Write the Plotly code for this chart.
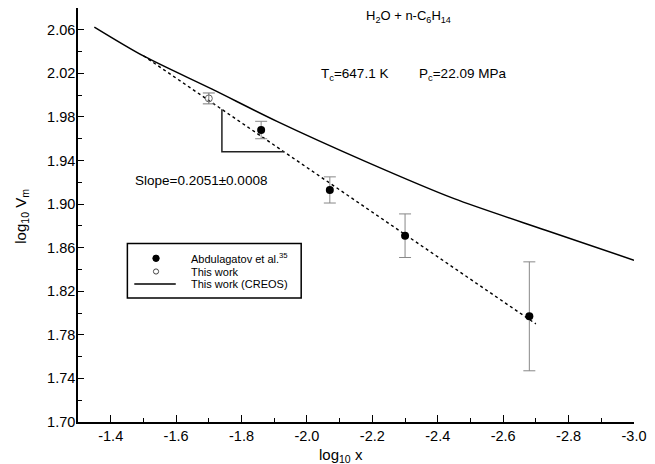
import plotly.graph_objects as go

# Abdulagatov et al. data (log10 x, log10 Vm, uncertainty)
abd_x = [-1.86, -2.07, -2.30, -2.68]
abd_y = [1.968, 1.913, 1.871, 1.797]
abd_err = [0.008, 0.012, 0.020, 0.050]

# This work
tw_x = [-1.70]
tw_y = [1.997]
tw_err = [0.005]

# CREOS model curve
creos_x = [-1.35, -1.50, -1.71, -1.91, -2.18, -2.45, -2.73, -3.00]
creos_y = [2.0625, 2.036, 2.0055, 1.9757, 1.939, 1.905, 1.876, 1.8485]

# Linear fit: log10 Vm = intercept + slope * log10 x
fit_slope = 0.2051
fit_intercept = 2.3438
fit_x = [-1.50, -2.70]
fit_y = [fit_intercept + fit_slope * v for v in fit_x]

# Slope triangle corners
tri_x = [-1.74, -1.74, -1.93]
tri_y = [1.987, 1.948, 1.948]

# Tick labels
x_tickvals = [-1.4, -1.6, -1.8, -2.0, -2.2, -2.4, -2.6, -2.8, -3.0]
x_ticktext = ["-1.4", "-1.6", "-1.8", "-2.0", "-2.2", "-2.4", "-2.6", "-2.8", "-3.0"]

FONT = "Liberation Sans, Arial, sans-serif"
W, H = 655, 464
ML, MR, MT, MB = 78, 14, 8, 42
PW, PH = W - ML - MR, H - MT - MB


def px_x(p):
    return (p - ML) / PW


def px_y(p):
    return (H - MB - p) / PH


fig = go.Figure()

fig.add_trace(go.Scatter(
    x=creos_x, y=creos_y, mode="lines",
    line=dict(color="black", width=1.5, shape="spline", smoothing=0.8),
    showlegend=False, hoverinfo="skip",
))

fig.add_trace(go.Scatter(
    x=fit_x, y=fit_y, mode="lines",
    line=dict(color="black", width=1.4, dash="3px,3px"),
    showlegend=False, hoverinfo="skip",
))

fig.add_trace(go.Scatter(
    x=tri_x, y=tri_y, mode="lines",
    line=dict(color="#222222", width=1.5),
    showlegend=False, hoverinfo="skip",
))

fig.add_trace(go.Scatter(
    x=tw_x, y=tw_y, mode="markers",
    marker=dict(symbol="circle-open", size=7, color="#666666", line=dict(width=1)),
    error_y=dict(type="data", array=tw_err, color="#777777", thickness=1, width=6),
    showlegend=False,
))

fig.add_trace(go.Scatter(
    x=abd_x, y=abd_y, mode="markers",
    marker=dict(symbol="circle", size=8, color="black"),
    error_y=dict(type="data", array=abd_err, color="#888888", thickness=1, width=6),
    showlegend=False,
))

annotations = [
    dict(x=-2.312, y=2.072, xref="x", yref="y", showarrow=False,
         text="H<sub>2</sub>O + n-C<sub>6</sub>H<sub>14</sub>",
         font=dict(family=FONT, size=13, color="black"), xanchor="center", yanchor="middle"),
    dict(x=-2.036, y=2.0187, xref="x", yref="y", showarrow=False,
         text="T<sub>c</sub>=647.1 K",
         font=dict(family=FONT, size=13.5, color="black"), xanchor="left", yanchor="middle"),
    dict(x=-2.338, y=2.0187, xref="x", yref="y", showarrow=False,
         text="P<sub>c</sub>=22.09 MPa",
         font=dict(family=FONT, size=13.5, color="black"), xanchor="left", yanchor="middle"),
    dict(x=-1.468, y=1.922, xref="x", yref="y", showarrow=False,
         text="Slope=0.2051\u00b10.0008",
         font=dict(family=FONT, size=13.5, color="black"), xanchor="left", yanchor="middle"),
    # axis titles
    dict(x=px_x(20), y=px_y(216), xref="paper", yref="paper", showarrow=False,
         text="log<sub>10</sub> V<sub>m</sub>", textangle=-90,
         font=dict(family=FONT, size=15, color="black"), xanchor="center", yanchor="middle"),
    dict(x=px_x(344), y=px_y(456), xref="paper", yref="paper", showarrow=False,
         text="log<sub>10</sub> x",
         font=dict(family=FONT, size=15, color="black"), xanchor="center", yanchor="middle"),
]

# Legend box drawn with shapes and text
legend_rows = [258.3, 271.5, 284]
legend_labels = ["Abdulagatov et al.<sup>35</sup>", "This work", "This work (CREOS)"]
for yy, lab in zip(legend_rows, legend_labels):
    annotations.append(dict(
        x=px_x(190), y=px_y(yy), xref="paper", yref="paper", showarrow=False,
        text=lab, font=dict(family=FONT, size=11, color="black"),
        xanchor="left", yanchor="middle",
    ))

shapes = [
    dict(type="rect", xref="paper", yref="paper",
         x0=px_x(128), x1=px_x(304), y0=px_y(298), y1=px_y(243.5),
         line=dict(color="black", width=1.5), fillcolor="white", layer="below"),
    dict(type="circle", xref="paper", yref="paper", xsizemode="pixel", ysizemode="pixel",
         xanchor=px_x(157), yanchor=px_y(legend_rows[0]),
         x0=-3.2, x1=3.2, y0=-3.2, y1=3.2,
         line=dict(color="black", width=1), fillcolor="black"),
    dict(type="circle", xref="paper", yref="paper", xsizemode="pixel", ysizemode="pixel",
         xanchor=px_x(157), yanchor=px_y(legend_rows[1]),
         x0=-2.6, x1=2.6, y0=-2.6, y1=2.6,
         line=dict(color="#444444", width=1), fillcolor="white"),
    dict(type="line", xref="paper", yref="paper",
         x0=px_x(135), x1=px_x(177), y0=px_y(legend_rows[2]), y1=px_y(legend_rows[2]),
         line=dict(color="black", width=1.5)),
]

fig.update_layout(
    width=W, height=H,
    margin=dict(l=ML, r=MR, t=MT, b=MB),
    paper_bgcolor="white", plot_bgcolor="white",
    font=dict(family=FONT, size=14, color="black"),
    showlegend=False,
    annotations=annotations,
    shapes=shapes,
    xaxis=dict(
        range=[-1.3, -3.0], tickmode="array", tickvals=x_tickvals, ticktext=x_ticktext,
        ticks="inside", ticklen=7, tickwidth=1, tickcolor="black",
        minor=dict(tickmode="linear", tick0=-1.3, dtick=0.1, ticks="inside", ticklen=4,
                   tickwidth=1, tickcolor="black"),
        showline=True, linecolor="black", linewidth=1.5,
        showgrid=False, zeroline=False,
        tickfont=dict(family=FONT, size=14.5, color="black"),
    ),
    yaxis=dict(
        range=[1.70, 2.08], tick0=1.70, dtick=0.04, tickformat=".2f",
        ticks="inside", ticklen=6, tickwidth=1, tickcolor="black",
        minor=dict(tick0=1.70, dtick=0.02, ticks="inside", ticklen=4,
                   tickwidth=1, tickcolor="black"),
        showline=True, linecolor="black", linewidth=1.5,
        showgrid=False, zeroline=False,
        ticklabelstandoff=-2,
        tickfont=dict(family=FONT, size=14.5, color="black"),
    ),
)

fig.write_html("out.html")
